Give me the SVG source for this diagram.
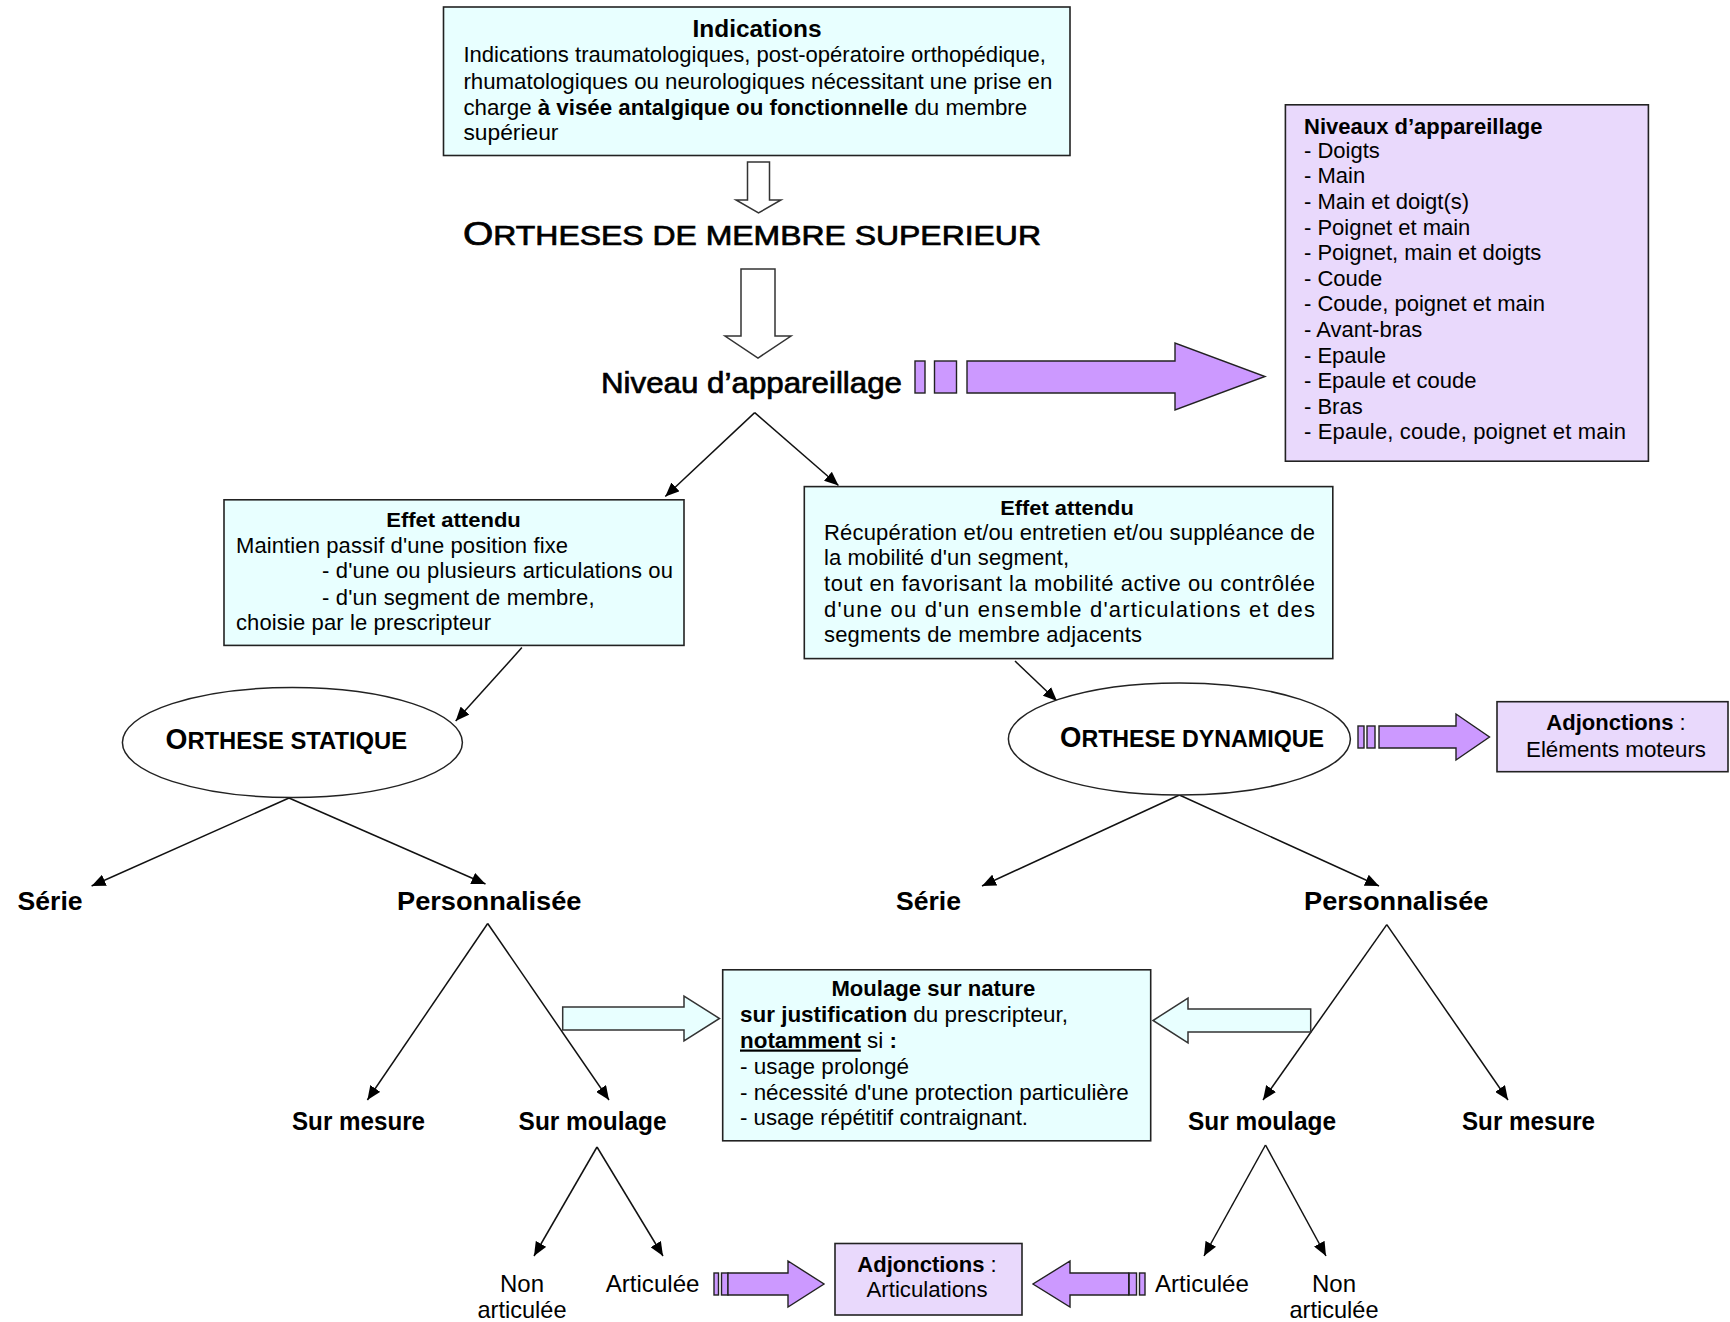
<svg xmlns="http://www.w3.org/2000/svg" width="1730" height="1322" viewBox="0 0 1730 1322">
<defs>
<marker id="ah" markerWidth="14" markerHeight="12" refX="14" refY="6" orient="auto" markerUnits="userSpaceOnUse"><path d="M0,0 L14,6 L0,12 z" fill="#000"/></marker>
<style>
text { font-family: "Liberation Sans", Arial, sans-serif; fill: #000; }
.b { font-weight: bold; }
.s22 { font-size: 22px; }
.mid { text-anchor: middle; }
.heavy { stroke: #000; stroke-width: 0.7; }
.boxc { fill: #e8ffff; stroke: #222; stroke-width: 1.6; }
.boxp { fill: #e9d9fc; stroke: #222; stroke-width: 1.6; }
.pur { fill: #cc99ff; stroke: #222; stroke-width: 1.4; }
.hol { fill: #ffffff; stroke: #333; stroke-width: 1.5; }
.cyarr { fill: #e8ffff; stroke: #333; stroke-width: 1.5; }
.ell { fill: #ffffff; stroke: #222; stroke-width: 1.5; }
.lab { font-weight: bold; font-size: 26px; }
.lab2 { font-weight: bold; font-size: 26px; }
.sm { font-size: 24px; }
.conn line { stroke: #111; stroke-width: 1.5; marker-end: url(#ah); }
</style>
</defs>

<g id="connectors" class="conn">
<line x1="754.7" y1="412.6" x2="665.3" y2="496.5"/>
<line x1="754.7" y1="412.6" x2="838.5" y2="485.5"/>
<line x1="521.9" y1="647.6" x2="455.7" y2="721"/>
<line x1="1015" y1="661" x2="1057" y2="701"/>
<line x1="289" y1="798" x2="91.6" y2="886"/>
<line x1="289" y1="798" x2="485.5" y2="884"/>
<line x1="1179.4" y1="795" x2="982" y2="886"/>
<line x1="1179.4" y1="795" x2="1379" y2="886"/>
<line x1="487.7" y1="923.5" x2="367.4" y2="1100"/>
<line x1="487.7" y1="923.5" x2="609" y2="1100"/>
<line x1="1386.8" y1="924.6" x2="1263" y2="1100"/>
<line x1="1386.8" y1="924.6" x2="1508" y2="1100"/>
<line x1="597" y1="1147" x2="534" y2="1256"/>
<line x1="597" y1="1147" x2="663" y2="1256"/>
<line x1="1265.5" y1="1145" x2="1204" y2="1256"/>
<line x1="1265.5" y1="1145" x2="1326" y2="1256"/>
</g>

<g id="block-arrows">
<polygon class="hol" points="747.5,162 769.5,162 769.5,200 781,200 758.5,213 736,200 747.5,200"/>
<polygon class="hol" points="741,269 775,269 775,336 791,336 758,358 725,336 741,336"/>
<g id="arrow-niveaux">
<rect class="pur" x="915" y="361" width="10" height="32"/>
<rect class="pur" x="934.5" y="361" width="22" height="32"/>
<polygon class="pur" points="967,361 1175,361 1175,343 1265,376.5 1175,410 1175,393 967,393"/>
</g>
<g id="arrow-moteurs">
<rect class="pur" x="1358" y="726" width="6" height="22"/>
<rect class="pur" x="1367" y="726" width="8" height="22"/>
<polygon class="pur" points="1379,726 1456,726 1456,714 1489.5,737 1456,760 1456,748 1379,748"/>
</g>
<polygon class="cyarr" points="562.7,1007 684,1007 684,996 719.5,1018.5 684,1041 684,1030 562.7,1030"/>
<polygon class="cyarr" points="1310.7,1009 1188,1009 1188,998 1153,1020.5 1188,1043 1188,1032 1310.7,1032"/>
<g id="arrow-artic-left">
<rect class="pur" x="714" y="1273" width="4.5" height="22"/>
<rect class="pur" x="721.5" y="1273" width="6.5" height="22"/>
<polygon class="pur" points="728,1273 788,1273 788,1261 824,1284 788,1307 788,1295 728,1295"/>
</g>
<g id="arrow-artic-right">
<rect class="pur" x="1139.5" y="1273" width="5.5" height="22"/>
<rect class="pur" x="1129" y="1273" width="7.5" height="22"/>
<polygon class="pur" points="1128.7,1273 1070,1273 1070,1261 1033,1284 1070,1307 1070,1295 1128.7,1295"/>
</g>
</g>

<g id="node-indications">
<rect class="boxc" x="443.5" y="7" width="626.5" height="148.5"/>
<text class="b mid" x="757" y="37" font-size="23" textLength="129" lengthAdjust="spacingAndGlyphs">Indications</text>
<text class="s22" x="463.4" y="62" textLength="582.6" lengthAdjust="spacingAndGlyphs">Indications traumatologiques, post-opératoire orthopédique,</text>
<text class="s22" x="463.4" y="88.5" textLength="589" lengthAdjust="spacingAndGlyphs">rhumatologiques ou neurologiques nécessitant une prise en</text>
<text class="s22" x="463.4" y="114.5" textLength="563.8" lengthAdjust="spacingAndGlyphs">charge <tspan class="b">à visée antalgique ou fonctionnelle</tspan> du membre</text>
<text class="s22" x="463.4" y="140" textLength="95" lengthAdjust="spacingAndGlyphs">supérieur</text>
</g>

<g id="node-title">
<text class="heavy" x="463" y="245" textLength="578" lengthAdjust="spacingAndGlyphs"><tspan font-size="33">O</tspan><tspan font-size="27">RTHESES DE MEMBRE SUPERIEUR</tspan></text>
</g>

<g id="node-niveau">
<text class="heavy" x="601" y="393" font-size="30" textLength="301" lengthAdjust="spacingAndGlyphs">Niveau d’appareillage</text>
</g>

<g id="node-niveaux-list">
<rect class="boxp" x="1285.4" y="104.8" width="363" height="356.4"/>
<text class="b s22" x="1304" y="133.5" textLength="238.4" lengthAdjust="spacingAndGlyphs">Niveaux d’appareillage</text>
<text class="s22" x="1304" y="157.8">- Doigts</text>
<text class="s22" x="1304" y="183.4">- Main</text>
<text class="s22" x="1304" y="209">- Main et doigt(s)</text>
<text class="s22" x="1304" y="234.6">- Poignet et main</text>
<text class="s22" x="1304" y="260.2">- Poignet, main et doigts</text>
<text class="s22" x="1304" y="285.8">- Coude</text>
<text class="s22" x="1304" y="311.4">- Coude, poignet et main</text>
<text class="s22" x="1304" y="337">- Avant-bras</text>
<text class="s22" x="1304" y="362.6">- Epaule</text>
<text class="s22" x="1304" y="388.2">- Epaule et coude</text>
<text class="s22" x="1304" y="413.8">- Bras</text>
<text class="s22" x="1304" y="439.4" textLength="322" lengthAdjust="spacing">- Epaule, coude, poignet et main</text>
</g>

<g id="node-effet-statique">
<rect class="boxc" x="224" y="499.8" width="460" height="145.6"/>
<text class="b mid" x="453.5" y="527.4" font-size="21" textLength="134.6" lengthAdjust="spacingAndGlyphs">Effet attendu</text>
<text class="s22" x="236" y="552.8" textLength="332" lengthAdjust="spacing">Maintien passif d'une position fixe</text>
<text class="s22" x="322" y="578.2" textLength="351" lengthAdjust="spacing">- d'une ou plusieurs articulations ou</text>
<text class="s22" x="322" y="604.6" textLength="272.5" lengthAdjust="spacing">- d'un segment de membre,</text>
<text class="s22" x="236" y="630" textLength="255" lengthAdjust="spacing">choisie par le prescripteur</text>
</g>

<g id="node-effet-dynamique">
<rect class="boxc" x="804.3" y="486.6" width="528.5" height="172"/>
<text class="b mid" x="1067" y="515" font-size="21" textLength="133.5" lengthAdjust="spacingAndGlyphs">Effet attendu</text>
<text class="s22" x="824" y="539.5" textLength="491" lengthAdjust="spacing">Récupération et/ou entretien et/ou suppléance de</text>
<text class="s22" x="824" y="565" textLength="245" lengthAdjust="spacing">la mobilité d'un segment,</text>
<text class="s22" x="824" y="591.4" textLength="491" lengthAdjust="spacing">tout en favorisant la mobilité active ou contrôlée</text>
<text class="s22" x="824" y="616.7" textLength="491" lengthAdjust="spacing">d'une ou d'un ensemble d'articulations et des</text>
<text class="s22" x="824" y="642" textLength="318" lengthAdjust="spacing">segments de membre adjacents</text>
</g>

<g id="node-statique">
<ellipse class="ell" cx="292.4" cy="742.5" rx="170" ry="55"/>
<text class="b" x="165.5" y="748.5" textLength="241.6" lengthAdjust="spacingAndGlyphs"><tspan font-size="29">O</tspan><tspan font-size="24.5">RTHESE STATIQUE</tspan></text>
</g>

<g id="node-dynamique">
<ellipse class="ell" cx="1179.4" cy="739" rx="171" ry="56"/>
<text class="b" x="1060" y="746.7" textLength="264" lengthAdjust="spacingAndGlyphs"><tspan font-size="29">O</tspan><tspan font-size="24.5">RTHESE DYNAMIQUE</tspan></text>
</g>

<g id="node-adj-moteurs">
<rect class="boxp" x="1497" y="701.7" width="231" height="70"/>
<text class="mid s22" x="1616" y="729.5"><tspan class="b">Adjonctions</tspan> :</text>
<text class="mid s22" x="1616" y="756.5" textLength="180" lengthAdjust="spacingAndGlyphs">Eléments moteurs</text>
</g>

<g id="node-serie-s">
<text class="lab" x="17.6" y="910" textLength="65" lengthAdjust="spacingAndGlyphs">Série</text>
</g>
<g id="node-perso-s">
<text class="lab" x="397" y="910" textLength="184.5" lengthAdjust="spacingAndGlyphs">Personnalisée</text>
</g>
<g id="node-serie-d">
<text class="lab" x="896" y="910" textLength="65" lengthAdjust="spacingAndGlyphs">Série</text>
</g>
<g id="node-perso-d">
<text class="lab" x="1304" y="910" textLength="184.5" lengthAdjust="spacingAndGlyphs">Personnalisée</text>
</g>

<g id="node-surmesure-s">
<text class="lab2" x="292" y="1130" textLength="133" lengthAdjust="spacingAndGlyphs">Sur mesure</text>
</g>
<g id="node-surmoulage-s">
<text class="lab2" x="518.6" y="1130" textLength="148" lengthAdjust="spacingAndGlyphs">Sur moulage</text>
</g>
<g id="node-surmoulage-d">
<text class="lab2" x="1188" y="1130" textLength="148" lengthAdjust="spacingAndGlyphs">Sur moulage</text>
</g>
<g id="node-surmesure-d">
<text class="lab2" x="1462" y="1130" textLength="133" lengthAdjust="spacingAndGlyphs">Sur mesure</text>
</g>

<g id="node-moulage">
<rect class="boxc" x="722.7" y="969.8" width="428" height="171"/>
<text class="b mid s22" x="933.4" y="996" textLength="204" lengthAdjust="spacingAndGlyphs">Moulage sur nature</text>
<text class="s22" x="740" y="1021.7" textLength="328" lengthAdjust="spacingAndGlyphs"><tspan class="b">sur justification</tspan> du prescripteur,</text>
<text class="s22" x="740" y="1047.5" textLength="157" lengthAdjust="spacingAndGlyphs"><tspan class="b" text-decoration="underline">notamment</tspan> si <tspan class="b">:</tspan></text>
<text class="s22" x="740" y="1073.5" textLength="169" lengthAdjust="spacingAndGlyphs">- usage prolongé</text>
<text class="s22" x="740" y="1099.5" textLength="388.7" lengthAdjust="spacingAndGlyphs">- nécessité d'une protection particulière</text>
<text class="s22" x="740" y="1125.4" textLength="288" lengthAdjust="spacingAndGlyphs">- usage répétitif contraignant.</text>
</g>

<g id="node-nonartic-s">
<text class="mid sm" x="522" y="1292">Non</text>
<text class="mid sm" x="522" y="1318" textLength="89" lengthAdjust="spacingAndGlyphs">articulée</text>
</g>
<g id="node-artic-s">
<text class="sm" x="605.7" y="1292" textLength="93.8" lengthAdjust="spacingAndGlyphs">Articulée</text>
</g>
<g id="node-adj-artic">
<rect class="boxp" x="835" y="1243.5" width="187" height="71.5"/>
<text class="mid s22" x="927" y="1272"><tspan class="b">Adjonctions</tspan> :</text>
<text class="mid s22" x="927" y="1297" textLength="121" lengthAdjust="spacingAndGlyphs">Articulations</text>
</g>
<g id="node-artic-d">
<text class="sm" x="1155" y="1292" textLength="93.8" lengthAdjust="spacingAndGlyphs">Articulée</text>
</g>
<g id="node-nonartic-d">
<text class="mid sm" x="1334" y="1292">Non</text>
<text class="mid sm" x="1334" y="1318" textLength="89" lengthAdjust="spacingAndGlyphs">articulée</text>
</g>
</svg>
